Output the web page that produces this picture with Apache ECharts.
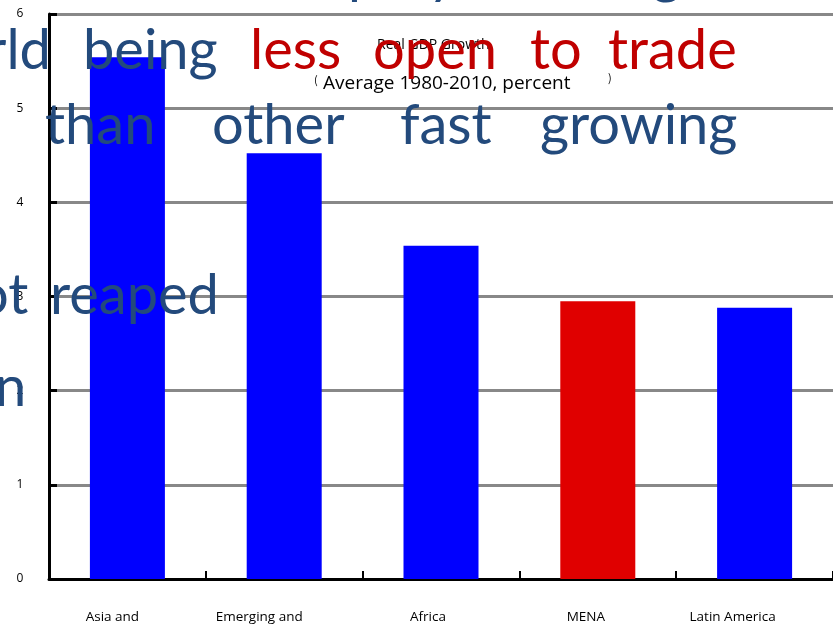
<!DOCTYPE html>
<html>
<head>
<meta charset="utf-8">
<script src="https://cdn.jsdelivr.net/npm/echarts@6/dist/echarts.min.js"></script>
<style>
html,body{margin:0;padding:0;background:#fff;}
#chart{width:833px;height:626px;}
</style>
</head>
<body>
<div id="chart"></div>
<script>
// ---- data ----
var categories = ['Asia and', 'Emerging and', 'Africa', 'MENA', 'Latin America'];
var growth = [5.54, 4.52, 3.54, 2.95, 2.88];
var highlightCategory = 'MENA';
var chartTitle = 'Real GDP Growth';
var chartSubtitle = 'Average 1980-2010, percent';

// slide text that sits over the chart in the reference
var slideLine1Blue = ['rld', 'being'];
var slideLine1Red = ['less', 'open', 'to', 'trade'];
var slideLine2 = ['than', 'other', 'fast', 'growing'];
var slideLine3 = ['ot', 'reaped'];
var slideLine4 = ['n'];
var slideTopClipped = ['p', 'y', 'g'];

var chart = echarts.init(document.getElementById('chart'));

var BLUE = '#234A7C', RED = '#C00000';
var bigFont = '56px Lato';
var ASC = 45; // distance from text top to baseline for bigFont
function word(t, x, baseline, color) {
  return { type: 'text', z: 100, silent: true,
    style: { text: t, x: x, y: baseline - ASC, fill: color, font: bigFont, verticalAlign: 'top', align: 'left' } };
}
var gfx = [];
var l1x = [-14, 83], l1rx = [250, 373, 530, 608];
slideLine1Blue.forEach(function (w, i) { gfx.push(word(w, l1x[i], 68, BLUE)); });
slideLine1Red.forEach(function (w, i) { gfx.push(word(w, l1rx[i], 68, RED)); });
var l2x = [45, 212, 400, 540];
slideLine2.forEach(function (w, i) { gfx.push(word(w, l2x[i], 143, BLUE)); });
var l3x = [-23, 50];
slideLine3.forEach(function (w, i) { gfx.push(word(w, l3x[i], 313, BLUE)); });
slideLine4.forEach(function (w) { gfx.push(word(w, -5, 405, BLUE)); });
var tcx = [348, 428, 652];
slideTopClipped.forEach(function (w, i) { gfx.push(word(w, tcx[i], -9, BLUE)); });

// title, subtitle with parentheses
gfx.push({ type: 'text', z: 50, style: { text: '(', x: 314, y: 80, fill: '#000', font: '11px "Noto Sans CJK SC"', verticalAlign: 'middle' } });
gfx.push({ type: 'text', z: 50, style: { text: chartSubtitle, x: 323, y: 84, fill: '#000', font: '19px "Open Sans"', verticalAlign: 'middle' } });
gfx.push({ type: 'text', z: 50, style: { text: ')', x: 608, y: 78, fill: '#000', font: '11px "Noto Sans CJK SC"', verticalAlign: 'middle' } });
gfx.push({ type: 'text', z: 50, style: { text: chartTitle, x: 377, y: 45, fill: '#000', font: '14px "Open Sans"', verticalAlign: 'middle' } });

// per-label horizontal shift (px to the left), style only
var labelShift = [15, 25, 13, 12, 22];
var rich = {};
labelShift.forEach(function (s, i) {
  rich['s' + i] = { padding: [0, 2 * s, 0, 0], fontFamily: 'Open Sans', fontSize: 13.5, color: '#000' };
});

chart.setOption({
  animation: false,
  backgroundColor: '#fff',
  grid: { left: 49, right: -1, top: 14, bottom: 47, containLabel: false },
  xAxis: {
    type: 'category',
    data: categories,
    axisLine: { lineStyle: { color: '#000', width: 3 } },
    axisTick: { show: true, inside: true, length: 8, alignWithLabel: false, lineStyle: { color: '#000', width: 2 } },
    axisLabel: {
      color: '#000', fontFamily: 'Open Sans', fontSize: 13.5, margin: 31, interval: 0,
      formatter: function (v, i) { return '{s' + i + '|' + v + '}'; },
      rich: rich
    },
    splitLine: { show: false }
  },
  yAxis: {
    type: 'value',
    min: 0, max: 6, interval: 1,
    axisLine: { show: true, lineStyle: { color: '#000', width: 3 } },
    axisTick: { show: true, inside: true, length: 8, lineStyle: { color: '#000', width: 3 } },
    axisLabel: { color: '#000', fontFamily: 'Open Sans', fontSize: 12, margin: 29, align: 'center', verticalAlign: 'middle', padding: [0, 0, 4, 0] },
    splitLine: { show: true, lineStyle: { color: '#888', width: 3 } }
  },
  series: [{
    type: 'bar',
    data: growth,
    barWidth: 75,
    z: 3,
    itemStyle: {
      color: function (p) { return p.name === highlightCategory ? '#E00000' : '#0000FF'; }
    }
  }],
  graphic: gfx
});
</script>
</body>
</html>
